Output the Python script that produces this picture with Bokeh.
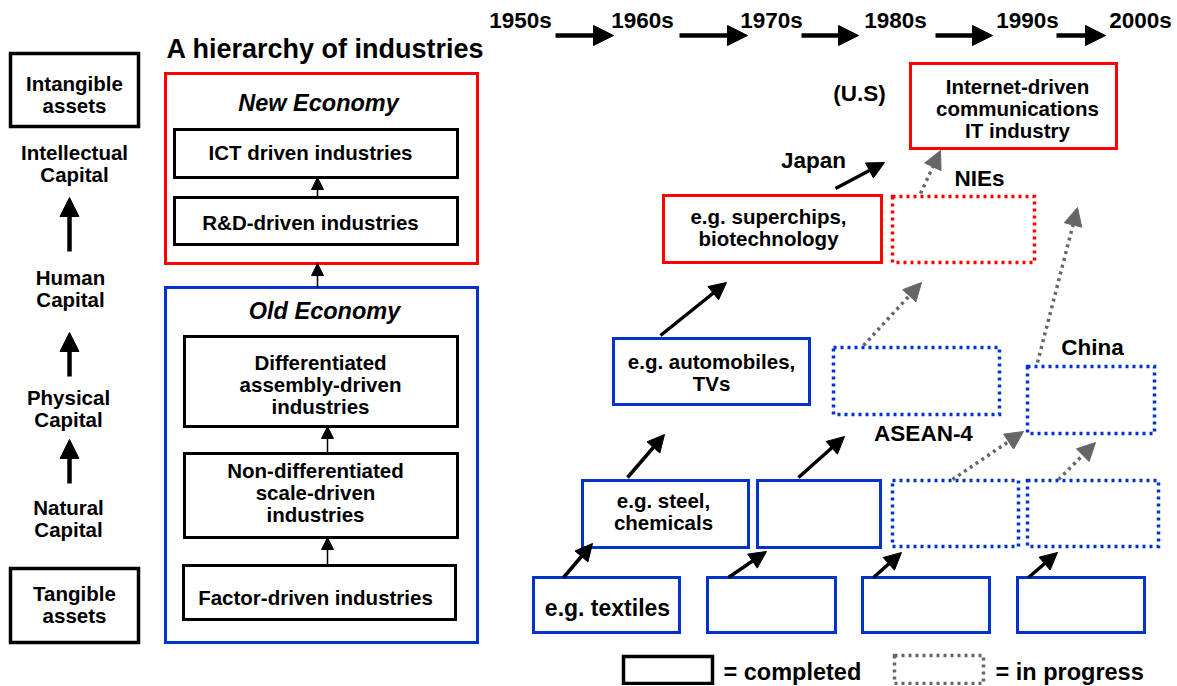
from bokeh.plotting import figure
from bokeh.models import Range1d, Arrow, NormalHead
from bokeh.core.properties import value
from bokeh.embed import file_html
from bokeh.resources import INLINE

# ---------------- content (texts) ----------------
timeline = ["1950s", "1960s", "1970s", "1980s", "1990s", "2000s"]
asset_types = ["Intangible\nassets", "Tangible\nassets"]
capital_stages = ["Intellectual\nCapital", "Human\nCapital", "Physical\nCapital", "Natural\nCapital"]
title = "A hierarchy of industries"
economies = ["New Economy", "Old Economy"]
new_industries = ["ICT driven industries", "R&D-driven industries"]
old_industries = ["Differentiated\nassembly-driven\nindustries",
                  "Non-differentiated\nscale-driven\nindustries",
                  "Factor-driven industries"]
examples = ["Internet-driven\ncommunications\nIT industry",
            "e.g. superchips,\nbiotechnology",
            "e.g. automobiles,\nTVs",
            "e.g. steel,\nchemicals",
            "e.g. textiles"]
regions = ["(U.S)", "Japan", "NIEs", "ASEAN-4", "China"]
legend_labels = ["= completed", "= in progress"]

# ---------------- layout (pixel positions on page) ----------------
FONT = value("Liberation Sans")
BLACK, RED, BLUE, GRAY = "#000000", "#ff0000", "#0033cc", "#666666"

W, H = 1176, 685
p = figure(width=W, height=H, x_range=Range1d(0, W), y_range=Range1d(H, 0),
           x_axis_type=None, y_axis_type=None, output_backend="svg",
           toolbar_location=None, min_border=0)
p.grid.visible = False
p.outline_line_color = None
p.background_fill_color = "white"


def label(x, y, text, size=20.5, style="bold", align="center", lh=22):
    lines = text.split("\n")
    n = len(lines)
    ys = [y + (i - (n - 1) / 2) * lh for i in range(n)]
    p.text(x=[x] * n, y=ys, text=lines, text_font=FONT, text_font_size=f"{size}px",
           text_font_style=style, text_align=align, text_baseline="middle",
           text_color="black")


def boxes(rects, color, dash="solid", width=3):
    l, r, t, b = zip(*rects)
    p.quad(left=list(l), right=list(r), top=list(t), bottom=list(b), fill_color=None,
           line_color=color, line_width=width, line_dash=dash, line_join="miter")


def arrow(x0, y0, x1, y1, color=BLACK, width=3.5, head=17, dash="solid"):
    p.add_layout(Arrow(end=NormalHead(size=head, fill_color=color, line_color=color, line_width=1),
                       x_start=x0, y_start=y0, x_end=x1, y_end=y1,
                       line_color=color, line_width=width, line_dash=dash))


DOT = "3 4"

# --- left column: capital ladder
boxes([(10, 138, 53, 126), (10, 138, 568, 642)], BLACK, width=3.5)
label(74, 94, asset_types[0])
label(74, 604, asset_types[1])
for (x, y), t in zip([(74, 163), (70, 288), (68, 408), (68, 518)], capital_stages):
    label(x, y, t)
for y0, y1 in [(251, 197), (376, 332), (483, 439)]:
    arrow(69, y0, 69, y1, width=4.5, head=19)

# --- hierarchy of industries
label(325, 48, title, size=27)
boxes([(165, 477, 73, 263)], RED)
boxes([(165, 477, 287, 642)], BLUE)
label(318, 102, economies[0], size=23.5, style="bold italic")
label(324, 310, economies[1], size=23.5, style="bold italic")
boxes([(174, 457, 129, 177), (174, 457, 197, 244),
       (184, 457, 336, 426), (184, 457, 453, 537), (183, 455, 565, 619)], BLACK)
label(310, 152, new_industries[0])
label(310, 222, new_industries[1])
label(320, 384, old_industries[0])
label(315, 492, old_industries[1])
label(315, 597, old_industries[2])
for x, y0, y1 in [(317, 197, 177), (317, 287, 263), (327, 452, 426), (327, 565, 537)]:
    arrow(x, y0, x, y1, width=1.5, head=12)

# --- timeline
for x, t in zip([520, 642, 771, 895, 1027, 1140], timeline):
    label(x, 20, t, size=22.5)
for x0, x1 in [(555, 613), (679, 747), (801, 858), (935, 992), (1056, 1105)]:
    arrow(x0, 35, x1, 35, width=4.5, head=20)

# --- catching-up boxes
boxes([(910, 1116, 63, 148), (663, 881, 195, 262)], RED)
boxes([(892, 1034, 196, 262)], RED, dash=DOT, width=3.5)
boxes([(613, 809, 338, 404), (582, 748, 480, 547), (757, 880, 480, 547),
       (533, 679, 577, 632), (707, 835, 577, 632), (862, 989, 577, 632),
       (1017, 1144, 577, 632)], BLUE)
boxes([(833, 999, 347, 414), (1027, 1154, 366, 433), (892, 1018, 480, 546),
       (1027, 1158, 480, 546)], BLUE, dash=DOT, width=3.5)

label(1017, 108, examples[0])
label(768, 227, examples[1])
label(711, 372, examples[2])
label(663, 511, examples[3])
label(607, 607, examples[4], size=23)

for (x, y), t in zip([(859, 93), (813, 160), (979, 178), (923, 433), (1092, 347)], regions):
    label(x, y, t, size=22.5)

# completed transitions
for x0, y0, x1, y1 in [(563, 577, 592, 543), (728, 577, 766, 551), (873, 577, 901, 552),
                       (1028, 577, 1057, 552), (627, 477, 664, 434), (798, 477, 844, 436),
                       (660, 335, 726, 282), (835, 188, 884, 162)]:
    arrow(x0, y0, x1, y1)

# in-progress transitions
for x0, y0, x1, y1 in [(863, 345, 921, 282), (920, 193, 940, 150), (1037, 362, 1077, 207),
                       (952, 479, 1023, 431), (1058, 479, 1095, 442)]:
    arrow(x0, y0, x1, y1, color=GRAY, width=3.5, head=18, dash=DOT)

# --- legend
boxes([(623, 712, 656, 683)], BLACK, width=3.5)
boxes([(894, 983, 655, 683)], GRAY, dash=DOT, width=3.5)
label(723, 671, legend_labels[0], size=23.5, align="left")
label(995, 671, legend_labels[1], size=23.5, align="left")

open("out.html", "w").write(file_html(p, INLINE))
